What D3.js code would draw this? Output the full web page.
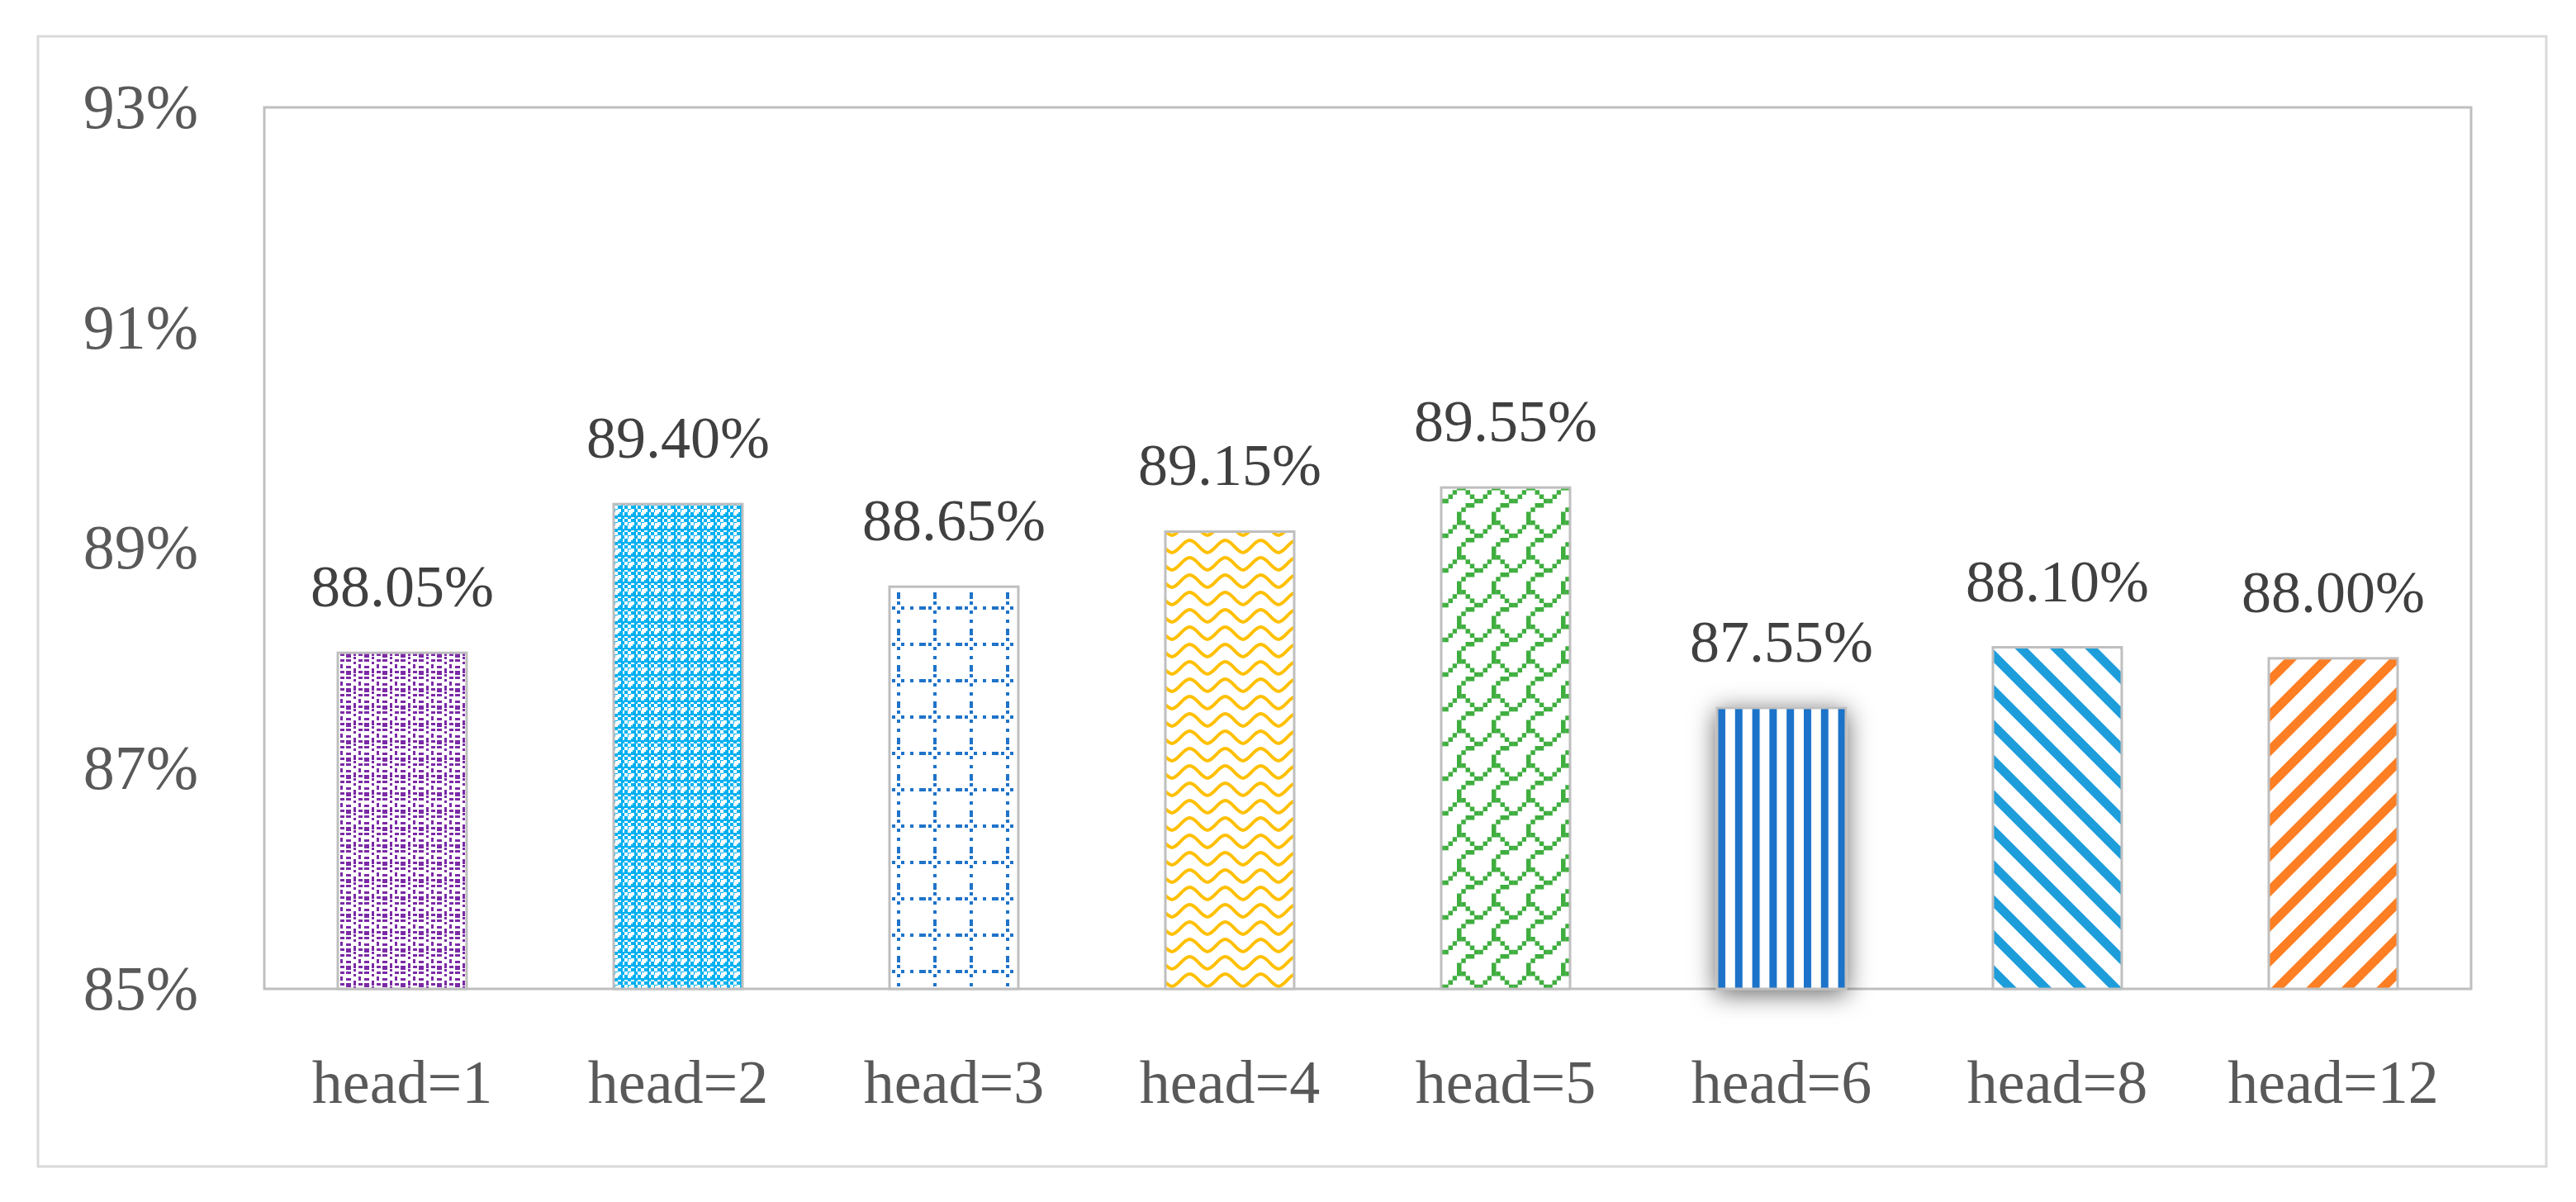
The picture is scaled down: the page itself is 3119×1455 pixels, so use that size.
<!DOCTYPE html>
<html>
<head>
<meta charset="utf-8">
<script src="https://cdn.jsdelivr.net/npm/d3@7"></script>
<style>
  html, body { margin: 0; padding: 0; background: #ffffff; }
  svg { display: block; }
</style>
</head>
<body>
<script>
// ---- data ----
const categories = ["head=1", "head=2", "head=3", "head=4", "head=5", "head=6", "head=8", "head=12"];
const values = [88.05, 89.40, 88.65, 89.15, 89.55, 87.55, 88.10, 88.00];
const valueLabels = ["88.05%", "89.40%", "88.65%", "89.15%", "89.55%", "87.55%", "88.10%", "88.00%"];
const yTicks = [85, 87, 89, 91, 93];
const yTickLabels = ["85%", "87%", "89%", "91%", "93%"];

// ---- layout ----
const W = 3119, H = 1455;
const plot = { left: 320, right: 2992, top: 130, bottom: 1197 };
const FONT = "'Liberation Serif', 'DejaVu Serif', serif";

const svg = d3.select("body").append("svg")
  .attr("width", W).attr("height", H);

const defs = svg.append("defs");

function pat(id, w, h, transform) {
  const p = defs.append("pattern").attr("id", id)
    .attr("patternUnits", "userSpaceOnUse")
    .attr("width", w).attr("height", h);
  if (transform) p.attr("patternTransform", transform);
  p.append("rect").attr("width", w).attr("height", h).attr("fill", "#ffffff");
  return p;
}

// 1: purple dashed dots
(function () {
  const c = "#7b2aa6";
  const p = pat("p1", 22, 21);
  [[1,0,6,3],[1,8,6,3],[1,14,6,5],[10,3,3,3],[10,11,3,6],[10,18,3,3],[16,0,5,3],[16,6,3,5],[16,14,5,3]]
    .forEach(r => p.append("rect").attr("x", r[0]).attr("y", r[1]).attr("width", r[2]).attr("height", r[3]).attr("fill", c));
})();

// 2: cyan weave/checks
(function () {
  const c = "#00b0f0";
  const p = pat("p2", 16, 16);
  for (let i = 0; i < 4; i++) for (let j = 0; j < 4; j++) {
    if ((i + j) % 2 === 0) p.append("rect").attr("x", i*4).attr("y", j*4).attr("width", 4).attr("height", 4).attr("fill", c);
  }
  p.append("rect").attr("x", 0).attr("y", 0).attr("width", 16).attr("height", 2).attr("fill", c);
  p.append("rect").attr("x", 0).attr("y", 0).attr("width", 2).attr("height", 16).attr("fill", c);
  p.append("rect").attr("x", 9).attr("y", 9).attr("width", 5).attr("height", 5).attr("fill", "#ffffff");
})();

// 3: blue dotted grid
(function () {
  const c = "#1f73c9";
  const p = pat("p3", 44, 44);
  for (let k = 0; k < 4; k++) {
    p.append("rect").attr("x", k*11 + 2).attr("y", 30).attr("width", k === 1 ? 8 : 4).attr("height", 4).attr("fill", c);
    p.append("rect").attr("x", 30).attr("y", k*11 + 2).attr("width", 4).attr("height", k === 1 ? 8 : 4).attr("fill", c);
  }
})();

// 4: yellow wave
(function () {
  const c = "#ffc000";
  const p = pat("p4", 43, 21);
  p.append("path").attr("d", "M-1,18 C8,18 13,3 21.5,3 C30,3 35,18 44,18")
    .attr("fill", "none").attr("stroke", c).attr("stroke-width", 4);
})();

// 5: green shingle (8x8 bit pattern, mirrored)
(function () {
  const c = "#3fae3f";
  const cell = 5.25;
  const p = pat("p5", cell * 8, cell * 8);
  const rows = [0x03, 0x84, 0x48, 0x30, 0x0c, 0x02, 0x01, 0x01];
  rows.forEach((bits, r) => {
    for (let col = 0; col < 8; col++) {
      if (bits & (0x80 >> col)) {
        p.append("rect").attr("x", (7 - col) * cell).attr("y", r * cell)
          .attr("width", cell + 0.3).attr("height", cell + 0.3).attr("fill", c);
      }
    }
  });
})();

// 6: blue vertical stripes
(function () {
  const c = "#1a73c9";
  const p = pat("p6", 20.8, 20);
  p.append("rect").attr("x", 0).attr("y", 0).attr("width", 9).attr("height", 20).attr("fill", c);
})();

// 7: light blue downward diagonal
(function () {
  const c = "#1e9ddb";
  const p = pat("p7", 30, 30, "rotate(-45)");
  p.append("rect").attr("x", 0).attr("y", 0).attr("width", 11).attr("height", 30).attr("fill", c);
})();

// 8: orange upward diagonal
(function () {
  const c = "#fd7e23";
  const p = pat("p8", 30, 30, "rotate(45)");
  p.append("rect").attr("x", 0).attr("y", 0).attr("width", 11).attr("height", 30).attr("fill", c);
})();

const patternIds = ["p1", "p2", "p3", "p4", "p5", "p6", "p7", "p8"];

// shadow filter for head=6
const f = defs.append("filter").attr("id", "shadow")
  .attr("x", "-60%").attr("y", "-30%").attr("width", "220%").attr("height", "160%");
f.append("feDropShadow").attr("dx", 0).attr("dy", 5).attr("stdDeviation", 15)
  .attr("flood-color", "#000000").attr("flood-opacity", 0.6);

// outer border
svg.append("rect")
  .attr("x", 46).attr("y", 44).attr("width", 3083 - 46).attr("height", 1412 - 44)
  .attr("fill", "#ffffff").attr("stroke", "#d9d9d9").attr("stroke-width", 3);

// scales
const x = d3.scaleBand().domain(categories).range([plot.left, plot.right])
  .paddingInner(0.533).paddingOuter(0.2665);
const y = d3.scaleLinear().domain([85, 93]).range([plot.bottom, plot.top]);

// plot area frame
svg.append("rect")
  .attr("x", plot.left).attr("y", plot.top)
  .attr("width", plot.right - plot.left).attr("height", plot.bottom - plot.top)
  .attr("fill", "none").attr("stroke", "#bfbfbf").attr("stroke-width", 3);

// y axis
const yAxis = d3.axisLeft(y).tickValues(yTicks)
  .tickFormat((d, i) => yTickLabels[i]).tickSize(0).tickPadding(0);
const yg = svg.append("g").attr("transform", `translate(${plot.left - 80},0)`).call(yAxis);
yg.select(".domain").remove();
yg.selectAll("text")
  .attr("font-family", FONT).attr("font-size", 76).attr("fill", "#595959")
  .attr("dy", "0.32em");

// x axis
const xAxis = d3.axisBottom(x).tickSize(0).tickPadding(0);
const xg = svg.append("g").attr("transform", `translate(0,1335)`).call(xAxis);
xg.select(".domain").remove();
xg.selectAll("text")
  .attr("font-family", FONT).attr("font-size", 74).attr("fill", "#595959")
  .attr("dy", 0).attr("y", 0);

// bars
const data = categories.map((c, i) => ({ c, v: values[i], lab: valueLabels[i], pid: patternIds[i] }));

svg.append("g").selectAll("rect").data(data).join("rect")
  .attr("x", d => x(d.c))
  .attr("y", d => y(d.v))
  .attr("width", x.bandwidth())
  .attr("height", d => y(85) - y(d.v))
  .attr("fill", d => `url(#${d.pid})`)
  .attr("stroke", "#bfbfbf").attr("stroke-width", 3)
  .attr("filter", d => d.c === "head=6" ? "url(#shadow)" : null);

// value labels
svg.append("g").selectAll("text").data(data).join("text")
  .attr("x", d => x(d.c) + x.bandwidth() / 2)
  .attr("y", d => y(d.v) - 56)
  .attr("text-anchor", "middle")
  .attr("font-family", FONT).attr("font-size", 72).attr("fill", "#404040")
  .text(d => d.lab);
</script>
</body>
</html>
